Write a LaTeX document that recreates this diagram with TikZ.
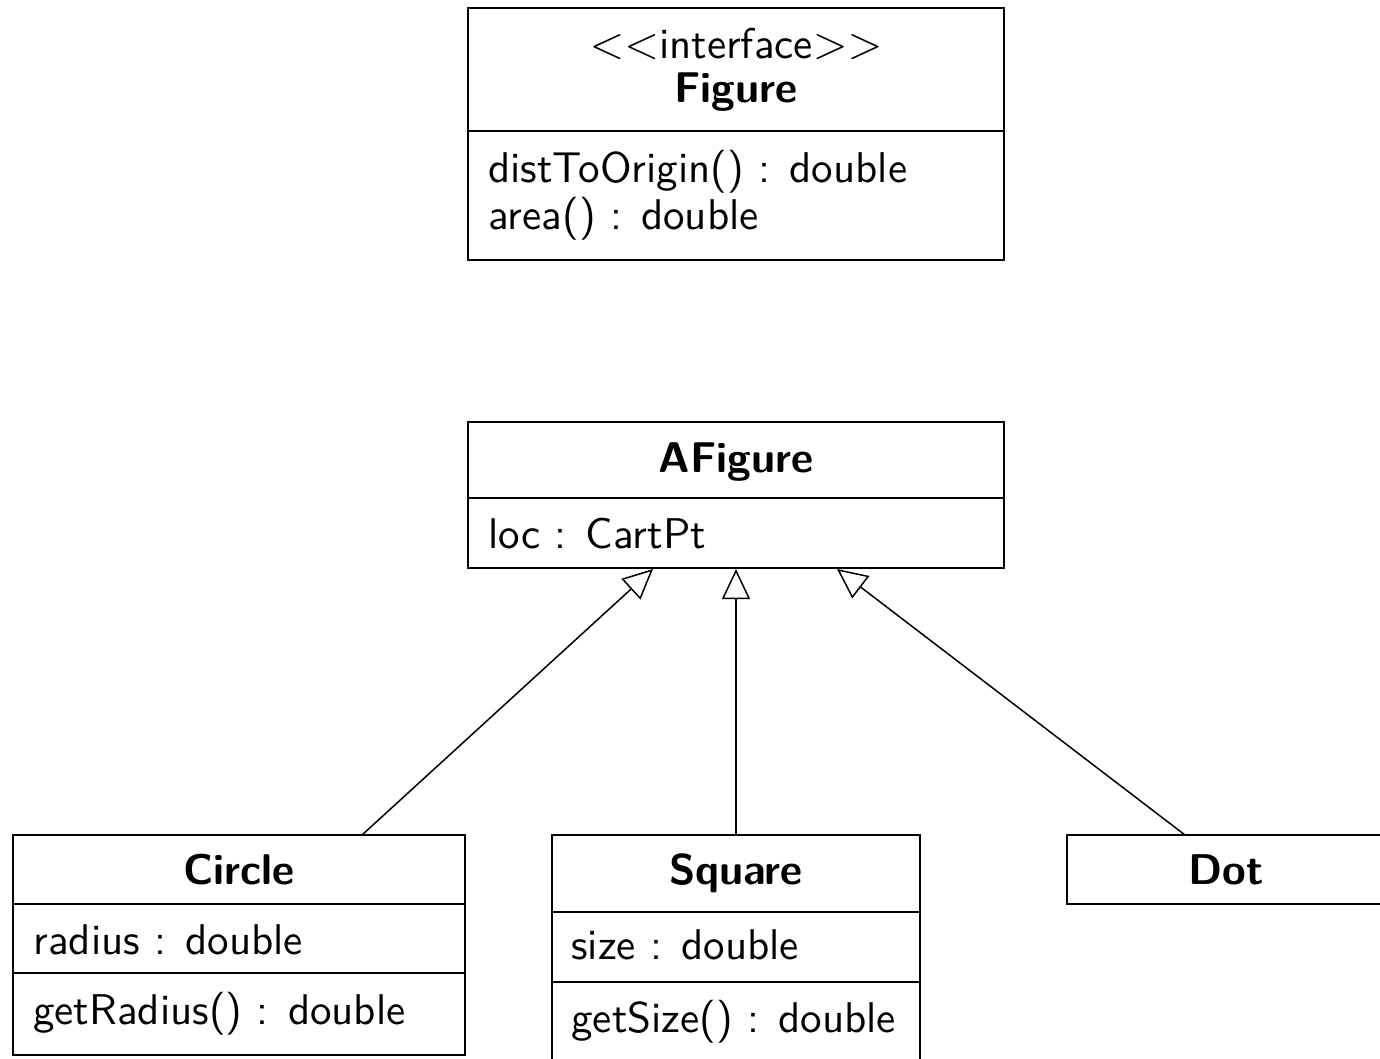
\documentclass[tikz,border=0pt]{standalone}
\usepackage{fontspec}
\setsansfont{lmsans10-regular.otf}[BoldFont=lmsans10-bold.otf]
\usetikzlibrary{arrows.meta}
\begin{document}
\begin{tikzpicture}[x=0.5pt,y=-0.5pt,
  cls/.style={draw, line width=1pt, inner sep=0pt, rectangle},
  txt/.style={anchor=base west, inner sep=0pt, font=\sffamily\fontsize{21.5}{25}\selectfont},
  ttl/.style={anchor=base, inner sep=0pt, font=\sffamily\bfseries\fontsize{21.5}{25}\selectfont},
  sep/.style={line width=1pt},
  inh/.style={line width=0.75pt, -{Triangle[open,length=15pt,width=14pt,line width=0.75pt]}}]
\clip (0,0) rectangle (1380,1059);
% boxes
\node[cls, minimum width=268pt, minimum height=126pt] (fig) at (736,134) {};
\node[cls, minimum width=268pt, minimum height=73pt] (afig) at (736,495) {};
\node[cls, minimum width=226pt, minimum height=110pt] (circ) at (239,945) {};
\node[cls, minimum width=184pt, minimum height=127.5pt] (sq) at (736,962.5) {};
\node[cls, minimum width=166.5pt, minimum height=34.5pt] (dot) at (1233.5,869.5) {};
% dividers
\draw[sep] (fig.west |- 0,131) -- (fig.east |- 0,131);
\draw[sep] (afig.west |- 0,498) -- (afig.east |- 0,498);
\draw[sep] (circ.west |- 0,904) -- (circ.east |- 0,904);
\draw[sep] (circ.west |- 0,973) -- (circ.east |- 0,973);
\draw[sep] (sq.west |- 0,912) -- (sq.east |- 0,912);
\draw[sep] (sq.west |- 0,982) -- (sq.east |- 0,982);
% texts
\node[anchor=base, inner sep=0pt, font=\sffamily\fontsize{21.5}{25}\selectfont] (st) at (736,59) {\scalebox{1.1}{$<<$}interface\scalebox{1.1}{$>>$}};
\node[ttl] (figname) at (736,103) {Figure};
\node[txt] (m1) at (488,183) {distToOrigin() : double};
\node[txt] (m2) at (488,229) {area() : double};
\node[ttl] (afname) at (736,472) {AFigure};
\node[txt] (a1) at (488,548) {loc : CartPt};
\node[ttl] (cname) at (239,884) {Circle};
\node[txt] (c1) at (33,954) {radius : double};
\node[txt] (c2) at (33,1024) {getRadius() : double};
\node[ttl] (sname) at (736,884) {Square};
\node[txt] (s1) at (571,959) {size : double};
\node[txt] (s2) at (571,1032) {getSize() : double};
\node[ttl] (dname) at (1226,884) {Dot};
% connector ends
\coordinate (cfrom) at (362,835);
\coordinate (cto) at (653,569);
\coordinate (sfrom) at (sq.north);
\coordinate (sto) at (736,569);
\coordinate (dfrom) at (1185,835);
\coordinate (dto) at (837,569);
\draw[inh] (cfrom) -- (cto);
\draw[inh] (sfrom) -- (sto);
\draw[inh] (dfrom) -- (dto);
\end{tikzpicture}
\end{document}
